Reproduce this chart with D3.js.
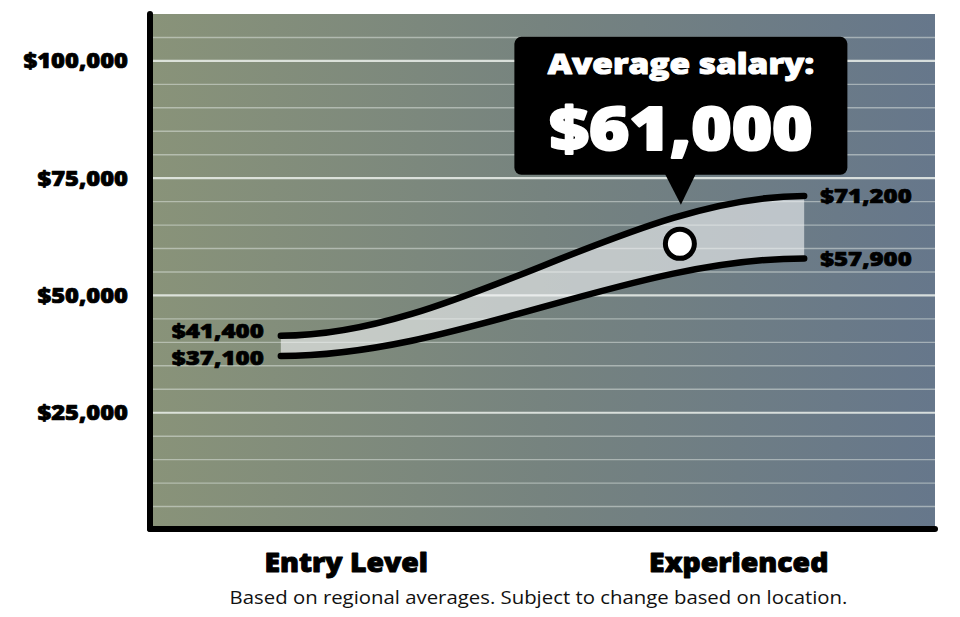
<!DOCTYPE html>
<html>
<head>
<meta charset="utf-8">
<script src="https://cdn.jsdelivr.net/npm/d3@7"></script>
<style>
  html, body { margin: 0; padding: 0; background: #ffffff; }
  svg { display: block; }
</style>
</head>
<body>
<svg id="chart" width="960" height="617"></svg>
<script>
// ---- data ----
const levels = ["Entry Level", "Experienced"];
const lowSalary = [37100, 57900];
const highSalary = [41400, 71200];
const averageSalary = 61000;
const averageTitle = "Average salary:";
const yTickValues = [25000, 50000, 75000, 100000];
const yTickLabels = ["$25,000", "$50,000", "$75,000", "$100,000"];
const footnote = "Based on regional averages. Subject to change based on location.";

// ---- layout ----
const plot = { left: 150, right: 935, top: 14, bottom: 529 };
const HEAVY = "'Open Sans', sans-serif";

const svg = d3.select("#chart");
const defs = svg.append("defs");

const x = d3.scalePoint().domain(levels).range([plot.left, plot.right]).padding(0.5);
const y = d3.scaleLinear().domain([0, 110000]).range([plot.bottom + 1, plot.top]);
const fmt = d3.format("$,");

// smooth S-curve with horizontal tangents (control points at 1/3 and 2/3)
class EaseCurve {
  constructor(context) { this._context = context; }
  areaStart() { this._line = 0; }
  areaEnd() { this._line = NaN; }
  lineStart() { this._point = 0; }
  lineEnd() {
    if (this._line || (this._line !== 0 && this._point === 1)) this._context.closePath();
    this._line = 1 - this._line;
  }
  point(px, py) {
    px = +px; py = +py;
    if (this._point === 0) {
      this._point = 1;
      if (this._line) this._context.lineTo(px, py); else this._context.moveTo(px, py);
    } else {
      this._point = 2;
      const dx = (px - this._x0) / 3;
      this._context.bezierCurveTo(this._x0 + dx, this._y0, px - dx, py, px, py);
    }
    this._x0 = px; this._y0 = py;
  }
}
const curveEase = ctx => new EaseCurve(ctx);

// widen glyphs (reference face is a wide geometric sans)
function stretch(sel, k) {
  sel.each(function () {
    const len = this.getComputedTextLength();
    d3.select(this).attr("textLength", len * k).attr("lengthAdjust", "spacingAndGlyphs");
  });
}
function heavy(sel, size, color) {
  return sel.attr("font-family", HEAVY).attr("font-weight", 800).attr("font-size", size)
    .attr("fill", color).attr("stroke", color).attr("stroke-width", size * 0.035)
    .attr("stroke-linejoin", "round");
}

// background gradient
const grad = defs.append("linearGradient").attr("id", "bg").attr("x1", "0%").attr("x2", "100%").attr("y1", "0%").attr("y2", "0%");
grad.append("stop").attr("offset", "0%").attr("stop-color", "#899379");
grad.append("stop").attr("offset", "50%").attr("stop-color", "#76837f");
grad.append("stop").attr("offset", "100%").attr("stop-color", "#66778b");

svg.append("rect")
  .attr("x", plot.left).attr("y", plot.top)
  .attr("width", plot.right - plot.left).attr("height", plot.bottom - plot.top)
  .attr("fill", "url(#bg)");

// grid lines
const gridVals = d3.range(5000, 110000, 5000);
svg.append("g").selectAll("line").data(gridVals).join("line")
  .attr("x1", plot.left).attr("x2", plot.right)
  .attr("y1", d => y(d)).attr("y2", d => y(d))
  .attr("stroke", d => d % 25000 === 0 ? "rgba(235,240,235,0.85)" : "rgba(225,232,228,0.5)")
  .attr("stroke-width", d => d % 25000 === 0 ? 2.2 : 1.4);

// y tick labels
const yt = svg.append("g").selectAll("text").data(yTickValues).join("text")
  .attr("x", plot.left - 22).attr("y", d => y(d))
  .attr("dy", "0.36em")
  .attr("text-anchor", "end")
  .text((d, i) => yTickLabels[i]);
heavy(yt, 21, "#000");
stretch(yt, 1.13);

// band between low and high
const step = x.step();
const ext = step / 6;
const pts = levels.map((lv, i) => ({
  x: i === 0 ? x(lv) - ext : x(lv) + ext,
  lo: lowSalary[i], hi: highSalary[i]
}));

const area = d3.area().curve(curveEase)
  .x(d => d.x).y0(d => y(d.lo)).y1(d => y(d.hi));
svg.append("path").datum(pts)
  .attr("d", area)
  .attr("fill", "rgba(240,242,244,0.62)");

const lineHi = d3.line().curve(curveEase).x(d => d.x).y(d => y(d.hi));
const lineLo = d3.line().curve(curveEase).x(d => d.x).y(d => y(d.lo));
[lineHi, lineLo].forEach(gen => {
  svg.append("path").datum(pts)
    .attr("d", gen)
    .attr("fill", "none").attr("stroke", "#000")
    .attr("stroke-width", 6.5).attr("stroke-linecap", "round");
});

// end value labels
const endLabels = [
  { x: pts[0].x - 17, v: highSalary[0], anchor: "end", dy: 2.5, size: 19, k: 1.27 },
  { x: pts[0].x - 17, v: lowSalary[0], anchor: "end", dy: 9.3, size: 19, k: 1.27 },
  { x: pts[1].x + 16, v: highSalary[1], anchor: "start", dy: 7.2, size: 20, k: 1.2 },
  { x: pts[1].x + 16, v: lowSalary[1], anchor: "start", dy: 7.2, size: 20, k: 1.2 }
];
svg.append("g").selectAll("text").data(endLabels).join("text")
  .attr("x", d => d.x).attr("y", d => y(d.v)).attr("dy", d => d.dy)
  .attr("text-anchor", d => d.anchor)
  .text(d => fmt(d.v))
  .each(function (d) {
    const s = d3.select(this);
    heavy(s, d.size, "#000");
    stretch(s, d.k);
  });

// average dot
const dotX = x(levels[0]) + (x(levels[1]) - x(levels[0])) * 0.85;
const dotY = y(averageSalary);

// callout
const tipY = dotY - 39;
const boxBottom = tipY - 30;
const boxH = 138, boxW = 333;
const boxX = dotX - boxW / 2 + 1;
const boxY = boxBottom - boxH;
const callout = svg.append("g");
callout.append("rect").attr("x", boxX).attr("y", boxY).attr("width", boxW).attr("height", boxH)
  .attr("rx", 7).attr("fill", "#000");
callout.append("path")
  .attr("d", `M${dotX - 15},${boxBottom - 1} L${dotX + 16},${boxBottom - 1} L${dotX + 1},${tipY} Z`)
  .attr("fill", "#000");
const t1 = callout.append("text").attr("x", boxX + boxW / 2).attr("y", boxY + 37)
  .attr("text-anchor", "middle").text(averageTitle);
heavy(t1, 29, "#fff");
stretch(t1, 1.15);
const t2 = callout.append("text").attr("x", boxX + boxW / 2).attr("y", boxY + 113)
  .attr("text-anchor", "middle").text(fmt(averageSalary));
heavy(t2, 60, "#fff");
stretch(t2, 1.15);

svg.append("circle").attr("cx", dotX).attr("cy", dotY).attr("r", 14.5)
  .attr("fill", "#fff").attr("stroke", "#000").attr("stroke-width", 5);

// axes
svg.append("line").attr("x1", plot.left).attr("x2", plot.left).attr("y1", plot.top).attr("y2", plot.bottom)
  .attr("stroke", "#000").attr("stroke-width", 6).attr("stroke-linecap", "round");
svg.append("line").attr("x1", plot.left).attr("x2", plot.right).attr("y1", plot.bottom).attr("y2", plot.bottom)
  .attr("stroke", "#000").attr("stroke-width", 6).attr("stroke-linecap", "round");

// category labels
const cl = svg.append("g").selectAll("text").data(levels).join("text")
  .attr("x", d => x(d)).attr("y", 572)
  .attr("text-anchor", "middle").text(d => d);
heavy(cl, 27, "#000");
stretch(cl, 1.05);

// footnote
const fn = svg.append("text").attr("x", (plot.left + plot.right) / 2 - 4).attr("y", 604)
  .attr("text-anchor", "middle").attr("font-family", "'Open Sans', sans-serif").attr("font-weight", 400)
  .attr("font-size", 18).attr("fill", "#111").text(footnote);
stretch(fn, 1.13);
</script>
</body>
</html>
